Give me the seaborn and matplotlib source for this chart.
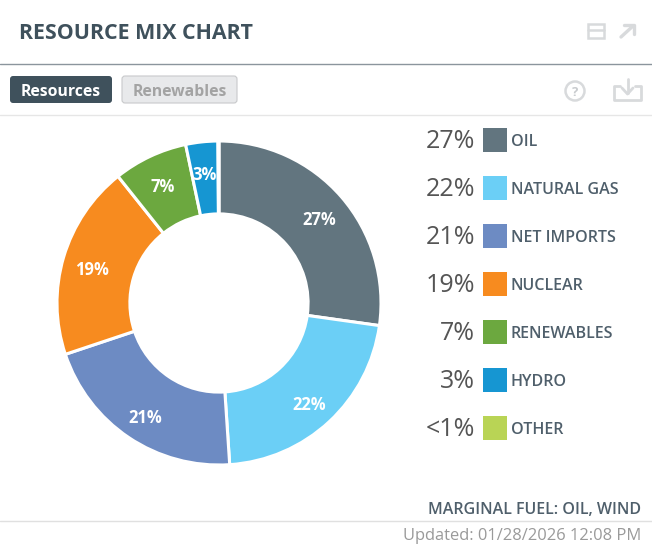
import matplotlib
matplotlib.use("Agg")
import matplotlib.pyplot as plt
import seaborn as sns
from matplotlib.patches import FancyBboxPatch, Rectangle, Circle

# data
fuels = ["OIL", "NATURAL GAS", "NET IMPORTS", "NUCLEAR", "RENEWABLES", "HYDRO", "OTHER"]
shares = [27.2, 21.7, 20.9, 19.4, 7.4, 3.2, 0.1]
share_labels = ["27%", "22%", "21%", "19%", "7%", "3%", "<1%"]
fuel_colors = ["#62757f", "#6bcff6", "#6d8bc3", "#f78b1f", "#6ca83f", "#1696d2", "#b9d455"]

sns.set_theme(style="white")
plt.rcParams["font.family"] = ["Open Sans", "DejaVu Sans"]

dark = "#3f515c"
W, H = 652, 552
fig = plt.figure(figsize=(W / 100, H / 100), dpi=100, facecolor="white")

# whole figure axes in pixels for the widget chrome
bg = fig.add_axes([0, 0, 1, 1])
bg.set_xlim(0, W)
bg.set_ylim(H, 0)
bg.axis("off")

bg.text(19, 33.5, "RESOURCE MIX CHART", fontsize=15.4, fontweight="bold", color=dark, va="center")
bg.axhline(64, color="#8b959d", lw=1)
bg.axhline(115, color="#e6e6e6", lw=1)
bg.axhline(521, color="#e0e0e0", lw=1)

# buttons
bg.add_patch(FancyBboxPatch((13, 79), 96, 21, boxstyle="round,pad=3", fc=dark, ec=dark, lw=0))
bg.text(61, 91.5, "Resources", fontsize=11.3, fontweight="bold", color="white", ha="center", va="center")
bg.add_patch(FancyBboxPatch((125, 79), 109, 21, boxstyle="round,pad=3", fc="#e8e9eb", ec="#c8c9cb", lw=0.8))
bg.text(180, 91.5, "Renewables", fontsize=11.3, fontweight="bold", color="#a3a3a3", ha="center", va="center")

# header icons
icon = "#d8dadc"
bg.add_patch(Rectangle((588, 24), 16, 14, fc="none", ec=icon, lw=1.8))
bg.plot([588, 604], [30, 30], color=icon, lw=1.8)
bg.plot([621, 633], [37, 26], color=icon, lw=2.4)
bg.plot([624, 634, 634], [25, 25, 34], color=icon, lw=2.4)
bg.add_patch(Circle((575, 91), 9.5, fc="none", ec=icon, lw=1.8))
bg.text(575, 92, "?", fontsize=9.5, fontweight="bold", color="#c8cbce", ha="center", va="center")
bg.plot([620, 614, 614, 641, 641, 635], [86, 86, 100, 100, 86, 86], color=icon, lw=2)
bg.plot([627.5, 627.5], [79, 93], color=icon, lw=2)
bg.plot([622, 627.5, 633], [88, 94, 88], color=icon, lw=2)

# legend rows
for i, (fuel, lab, col) in enumerate(zip(fuels, share_labels, fuel_colors)):
    y = 140 + 48 * i
    bg.text(475, y + 1.5, lab, fontsize=18, color="#555555", ha="right", va="center")
    bg.add_patch(Rectangle((483, y - 12), 24, 24, fc=col, ec="none"))
    bg.text(511, y + 1.5, fuel, fontsize=11.5, fontweight=600, color="#4f5f6b", va="center")

bg.text(641, 510, "MARGINAL FUEL: OIL, WIND", fontsize=11.55, fontweight=600, color="#4f5f6b", ha="right", va="center")
bg.text(641, 536.5, "Updated: 01/28/2026 12:08 PM", fontsize=11.85, color="#9a9a9a", ha="right", va="center")

# donut
pie_text = iter(share_labels[:-1] + [""])
ax = fig.add_axes([57 / W, 1 - 465 / H, 324 / W, 324 / H])
wedges, texts, autotexts = ax.pie(
    shares,
    colors=fuel_colors,
    startangle=90,
    counterclock=False,
    radius=1,
    pctdistance=0.82,
    autopct=lambda p: next(pie_text),
    wedgeprops={"width": 0.45, "edgecolor": "white", "linewidth": 2.2},
    textprops={"color": "white", "fontsize": 12, "fontweight": "bold"},
)
# open sans sits high when centred, push the labels down a bit
for t in autotexts:
    x, y = t.get_position()
    t.set_position((x, y - 0.026))
ax.set_xlim(-1, 1)
ax.set_ylim(-1, 1)

fig.savefig("out.png", dpi=100)
